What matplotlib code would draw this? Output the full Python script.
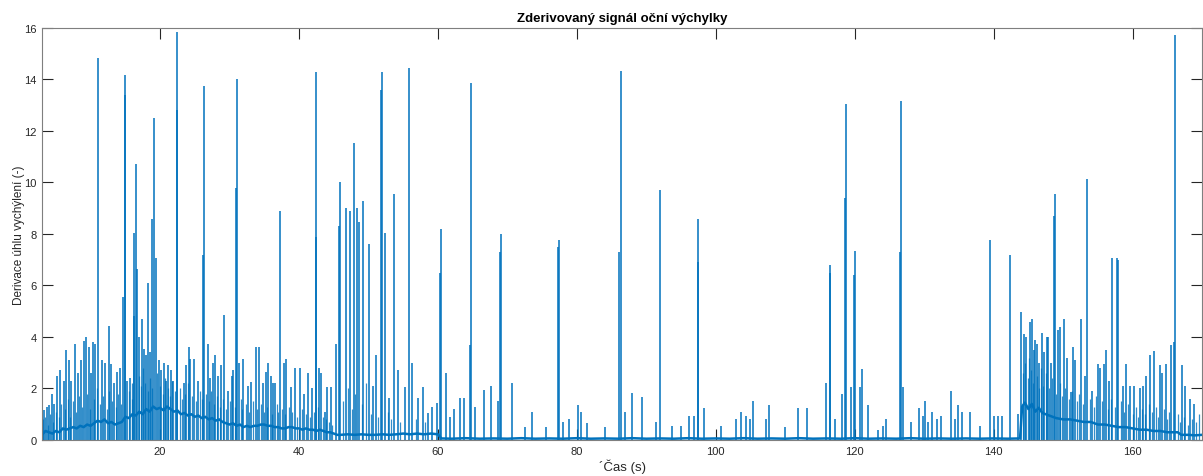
import matplotlib
matplotlib.use("Agg")
import matplotlib.pyplot as plt

# Slow baseline of the derivative signal: (time s, value)
baseline = [
    (2.6, 0.3), (3, 0.2), (3.5, 0.35), (4, 0.3), (4.5, 0.25), (5, 0.35), (5.5, 0.3),
    (6, 0.45), (6.5, 0.4), (7, 0.45), (7.5, 0.5), (8, 0.45), (8.5, 0.55), (9, 0.5),
    (9.5, 0.6), (10, 0.55), (10.5, 0.65), (11, 0.75), (11.5, 0.7), (12, 0.8), (12.5, 0.65),
    (13, 0.7), (13.5, 0.6), (14, 0.65), (14.5, 0.7), (15, 0.9), (15.5, 0.85), (16, 1.0),
    (16.5, 0.95), (17, 1.1), (17.5, 1.0), (18, 1.2), (18.5, 1.1), (19, 1.3), (19.5, 1.2),
    (20, 1.25), (20.5, 1.15), (21, 1.3), (21.5, 1.2), (22, 1.1), (22.5, 1.15), (23, 1.0),
    (23.5, 1.05), (24, 0.95), (24.5, 1.0), (25, 0.9), (25.5, 0.95), (26, 0.85), (26.5, 0.9),
    (27, 0.8), (27.5, 0.85), (28, 0.75), (28.5, 0.8), (29, 0.7), (29.5, 0.65), (30, 0.6),
    (30.5, 0.65), (31, 0.55), (31.5, 0.6), (32, 0.5), (32.5, 0.55), (33, 0.5), (33.5, 0.55),
    (34, 0.55), (34.5, 0.6), (35, 0.6), (35.5, 0.55), (36, 0.55), (36.5, 0.5), (37, 0.5),
    (37.5, 0.45), (38, 0.45), (38.5, 0.5), (39, 0.5), (39.5, 0.45), (40, 0.45), (40.5, 0.4),
    (41, 0.45), (41.5, 0.4), (42, 0.4), (42.5, 0.35), (43, 0.4), (43.5, 0.35), (44, 0.3),
    (44.5, 0.3), (45, 0.25), (45.5, 0.2), (46, 0.2), (47, 0.22), (48, 0.2), (49, 0.22),
    (50, 0.2), (51, 0.2), (52, 0.22), (53, 0.2), (54, 0.22), (55, 0.25), (56, 0.22),
    (57, 0.25), (58, 0.22), (59, 0.25), (60, 0.22), (60.5, 0.06), (62, 0.05), (64, 0.07),
    (66, 0.05), (68, 0.06), (70, 0.05), (72, 0.07), (74, 0.05), (76, 0.06), (78, 0.05),
    (80, 0.07), (82, 0.05), (84, 0.06), (86, 0.05), (88, 0.07), (90, 0.05), (92, 0.06),
    (94, 0.05), (96, 0.07), (98, 0.05), (100, 0.06), (102, 0.05), (104, 0.07), (106, 0.05),
    (108, 0.06), (110, 0.05), (112, 0.07), (114, 0.05), (116, 0.06), (118, 0.05),
    (120, 0.07), (122, 0.05), (124, 0.06), (126, 0.05), (128, 0.07), (130, 0.05),
    (132, 0.06), (134, 0.05), (136, 0.06), (138, 0.05), (140, 0.06), (142, 0.05),
    (143.8, 0.06), (144.1, 1.3), (144.5, 1.45), (145, 1.2), (145.5, 1.4), (146, 1.1),
    (146.5, 1.25), (147, 1.05), (147.5, 1.0), (148, 0.95), (149, 0.85), (150, 0.8),
    (151, 0.8), (152, 0.75), (153, 0.7), (154, 0.7), (155, 0.6), (156, 0.6), (157, 0.55),
    (158, 0.5), (159, 0.5), (160, 0.45), (161, 0.4), (162, 0.4), (163, 0.35), (164, 0.35),
    (165, 0.3), (166, 0.3), (166.5, 0.3), (167, 0.2), (168, 0.2), (169, 0.18), (170, 0.2),
]

# Saccade peaks of the derivative: (time s, peak value)
peaks = [
    (3.3, 1.15), (3.7, 1.3), (4.0, 1.35), (4.4, 1.8), (4.8, 1.4), (5.2, 2.5), (5.6, 2.7),
    (6.1, 2.3), (6.5, 3.48), (6.9, 3.1), (7.2, 2.3), (7.7, 3.74), (8.2, 2.6), (8.6, 3.1),
    (9.1, 3.86), (9.3, 4.0), (9.7, 3.6), (10.1, 2.6), (10.3, 3.8), (10.7, 3.73),
    (11.1, 14.85), (11.6, 3.1), (12.1, 3.0), (12.6, 4.43), (12.9, 2.95), (13.4, 2.2),
    (13.8, 2.65), (14.2, 2.78), (14.6, 5.55), (14.9, 13.4), (15.0, 14.16), (15.3, 2.3),
    (15.7, 2.4), (16.2, 4.8), (16.3, 8.05), (16.5, 10.7), (16.7, 6.65), (17.0, 4.0),
    (17.4, 4.7), (17.7, 3.55), (18.0, 3.3), (18.3, 6.1), (18.6, 3.4), (18.9, 8.6),
    (19.1, 12.5), (19.4, 7.07), (19.8, 3.1), (20.2, 2.7), (20.5, 3.0), (20.9, 2.3),
    (21.2, 2.9), (21.6, 2.7), (21.9, 2.3), (22.4, 12.8), (22.5, 15.84), (23.5, 2.2),
    (23.8, 2.9), (24.1, 3.6), (24.3, 3.16), (24.9, 3.16), (25.4, 2.3), (26.2, 7.2),
    (26.3, 13.74), (26.9, 3.74), (27.2, 2.4), (27.6, 3.0), (27.9, 3.3), (28.4, 2.47),
    (28.8, 2.9), (29.2, 4.85), (29.8, 1.9), (30.3, 2.47), (30.5, 2.7), (31.0, 9.8),
    (31.1, 14.03), (31.4, 3.0), (32.0, 3.16), (32.6, 2.1), (33.1, 2.25), (33.8, 3.6),
    (34.3, 3.6), (34.8, 2.2), (35.2, 2.64), (35.6, 3.0), (35.9, 2.5), (36.3, 2.2),
    (36.6, 2.2), (37.3, 8.9), (37.8, 3.0), (38.2, 3.16), (38.8, 2.07), (39.4, 2.78),
    (40.1, 2.78), (40.7, 1.8), (41.3, 2.6), (41.8, 2.0), (42.4, 7.9), (42.5, 14.3),
    (42.9, 2.78), (43.2, 2.6), (43.7, 1.1), (44.1, 2.07), (44.6, 2.07), (45.3, 3.74),
    (45.8, 8.3), (45.95, 10.0), (46.7, 9.0), (47.3, 8.88), (47.9, 11.53), (48.4, 9.0),
    (48.7, 8.47), (49.2, 9.3), (50.1, 7.63), (50.6, 2.1), (51.1, 3.3), (51.8, 13.6),
    (51.9, 14.3), (52.4, 8.04), (53.0, 1.65), (53.7, 9.57), (54.2, 2.7), (55.3, 2.06),
    (55.9, 14.45), (56.3, 3.0), (57.1, 1.65), (57.9, 2.06), (58.5, 1.05), (59.2, 1.3),
    (59.8, 1.45), (60.3, 6.5), (60.4, 8.18), (61.1, 2.6), (61.7, 0.9), (62.3, 1.2),
    (63.2, 1.65), (63.8, 1.65), (64.6, 3.7), (64.7, 13.86), (65.3, 1.3), (66.7, 1.95),
    (67.7, 2.1), (68.7, 1.53), (69.0, 7.3), (69.1, 8.0), (70.6, 2.23), (72.5, 0.5),
    (73.6, 1.1), (75.5, 0.5), (77.3, 7.5), (77.4, 7.75), (78.0, 0.7), (78.9, 0.8),
    (80.1, 1.35), (80.6, 1.1), (81.5, 0.65), (84.0, 0.5), (86.1, 7.3), (86.3, 14.32),
    (87.0, 1.1), (87.9, 1.82), (89.4, 1.66), (91.4, 0.69), (92.0, 9.72), (93.7, 0.56),
    (95.0, 0.56), (96.2, 0.95), (96.9, 0.95), (97.4, 6.9), (97.5, 8.6), (98.3, 1.23),
    (100.7, 0.56), (102.9, 0.82), (103.6, 1.1), (104.4, 0.95), (104.9, 0.82), (105.4, 1.5),
    (107.2, 0.82), (107.6, 1.36), (110.0, 0.5), (111.8, 1.23), (113.1, 1.23), (115.9, 2.2),
    (116.4, 6.5), (116.5, 6.8), (117.2, 0.82), (118.1, 1.79), (118.6, 9.4), (118.7, 13.05),
    (119.4, 2.07), (119.9, 6.4), (120.0, 7.35), (120.7, 2.07), (121.1, 2.76), (121.9, 1.36),
    (123.3, 0.4), (124.0, 0.56), (124.5, 0.82), (126.5, 7.3), (126.6, 13.18), (127.0, 2.07),
    (128.1, 0.69), (129.3, 1.23), (129.8, 0.95), (130.1, 1.5), (130.6, 0.69), (131.1, 1.1),
    (131.9, 0.82), (132.4, 0.95), (133.8, 1.92), (134.4, 0.82), (134.9, 1.36), (135.5, 1.1),
    (136.6, 1.1), (138.0, 0.56), (139.5, 7.77), (140.1, 0.95), (140.6, 0.95), (141.2, 0.95),
    (142.4, 7.2), (143.5, 1.0), (144.0, 4.97), (144.3, 4.13), (144.7, 4.0), (145.2, 4.58),
    (145.5, 4.71), (145.8, 3.48), (146.0, 3.87), (146.3, 3.74), (146.6, 3.0), (146.9, 4.16),
    (147.3, 3.4), (147.7, 4.0), (147.8, 4.0), (148.2, 3.0), (148.7, 8.7), (148.8, 9.57),
    (149.3, 4.26), (149.6, 4.4), (150.1, 4.7), (150.6, 3.2), (151.1, 1.86), (151.4, 3.6),
    (151.7, 3.1), (152.6, 4.7), (153.1, 2.5), (153.5, 10.15), (154.2, 1.9), (155.0, 2.97),
    (155.3, 2.8), (155.9, 2.97), (156.2, 3.48), (156.6, 2.3), (157.0, 7.08), (157.7, 7.07),
    (157.9, 7.0), (158.6, 2.1), (159.0, 2.95), (159.7, 2.1), (160.2, 2.1), (161.0, 2.0),
    (161.5, 2.1), (162.0, 2.5), (162.5, 3.3), (163.1, 3.45), (163.9, 2.9), (164.2, 2.6),
    (164.8, 2.97), (165.6, 3.67), (166.0, 3.8), (166.1, 15.72), (167.1, 2.9), (167.6, 2.1),
    (168.2, 1.6), (168.9, 1.4),
]

# Small fixation jitter peaks in the busy stretches: (time s, peak value)
minor_peaks = [
    (3.1, 0.8), (3.5, 0.9), (3.9, 0.6), (4.2, 1.0), (4.6, 0.7), (5.0, 1.1), (5.4, 0.9),
    (5.8, 1.4), (6.3, 1.2), (6.7, 1.6), (7.0, 0.9), (7.4, 1.5), (7.9, 1.1), (8.4, 1.7),
    (8.8, 1.3), (9.5, 1.8), (9.9, 1.2), (10.5, 1.6), (10.9, 2.0), (11.3, 1.4), (11.8, 1.7),
    (12.3, 1.2), (12.7, 1.9), (13.1, 1.5), (13.6, 1.3), (14.0, 1.8), (14.4, 1.4),
    (15.5, 1.9), (15.9, 1.6), (16.0, 2.2), (16.9, 2.5), (17.2, 2.1), (17.5, 2.8),
    (17.9, 2.2), (18.2, 1.9), (18.5, 2.4), (18.8, 2.0), (19.6, 2.6), (20.0, 2.1),
    (20.4, 1.8), (20.7, 2.4), (21.1, 2.0), (21.4, 1.7), (21.7, 2.3), (22.1, 1.9),
    (22.8, 2.0), (23.2, 1.6), (23.6, 1.8), (24.0, 2.2), (24.6, 1.7), (25.1, 1.5),
    (25.7, 1.9), (26.0, 1.6), (26.6, 1.8), (27.0, 1.5), (27.4, 1.9), (27.8, 1.4),
    (28.2, 1.7), (28.6, 1.3), (29.0, 1.6), (29.5, 1.2), (30.0, 1.5), (30.8, 1.3),
    (31.6, 1.6), (31.8, 1.2), (32.3, 1.4), (32.8, 1.1), (33.4, 1.5), (34.0, 1.2),
    (34.6, 1.4), (35.0, 1.1), (35.4, 1.3), (36.1, 1.0), (36.8, 1.4), (37.0, 1.1),
    (37.6, 1.2), (38.0, 1.0), (38.5, 1.3), (39.0, 1.1), (39.7, 0.9), (40.4, 1.2),
    (41.0, 1.0), (41.6, 0.9), (42.1, 1.1), (42.7, 1.3), (43.4, 0.9), (43.9, 0.8),
    (44.3, 0.7), (44.8, 0.6), (46.3, 1.5), (47.0, 2.0), (47.6, 1.2), (48.1, 1.8),
    (49.0, 1.4), (49.6, 2.2), (50.4, 1.0), (51.4, 0.9), (52.8, 1.1), (53.3, 0.8),
    (54.6, 0.7), (56.8, 0.8), (58.2, 0.7), (144.2, 2.6), (144.5, 3.0), (144.9, 2.4),
    (145.1, 3.2), (145.4, 2.7), (145.7, 2.2), (146.2, 2.5), (146.5, 2.0), (146.8, 2.8),
    (147.1, 2.1), (147.5, 2.6), (148.0, 2.0), (148.4, 2.4), (149.0, 1.8), (149.5, 2.2),
    (149.9, 1.7), (150.3, 2.0), (150.9, 1.6), (151.3, 1.9), (152.0, 1.5), (152.3, 1.8),
    (152.9, 1.4), (153.8, 1.6), (154.5, 1.3), (154.8, 1.7), (155.6, 1.5), (156.4, 1.2),
    (156.9, 1.6), (157.4, 1.3), (158.3, 1.5), (158.8, 1.1), (159.3, 1.4), (160.0, 1.0),
    (160.5, 1.3), (160.8, 0.9), (161.3, 1.2), (161.8, 1.0), (162.3, 1.4), (162.8, 1.1),
    (163.4, 1.3), (163.7, 0.9), (164.5, 1.2), (165.0, 0.8), (165.3, 1.1), (166.5, 1.0),
    (166.8, 0.7), (167.4, 0.9), (168.0, 0.6), (168.5, 0.8), (169.2, 0.7), (169.6, 1.0),
]

base_t = [t for t, _ in baseline]
base_v = [v for _, v in baseline]
spike_t = [t for t, _ in peaks]
spike_v = [v for _, v in peaks]
minor_t = [t for t, _ in minor_peaks]
minor_v = [v for _, v in minor_peaks]

BLUE = "#0072BD"
AX_COLOR = "#262626"

plt.rcParams["font.family"] = ["Liberation Sans", "DejaVu Sans"]

fig = plt.figure(figsize=(12.03, 4.77), dpi=100)
ax = fig.add_axes([0.0349, 0.0755, 0.9643, 0.8637])

ax.vlines(minor_t, 0, minor_v, color=BLUE, linewidth=0.9, alpha=0.8)
ax.vlines(spike_t, 0, spike_v, color=BLUE, linewidth=1.1)
ax.plot(base_t, base_v, color=BLUE, linewidth=1.8)

ax.set_xlim(3, 170)
ax.set_ylim(0, 16)
ax.set_xticks(range(20, 161, 20))
ax.set_yticks(range(0, 17, 2))

ax.tick_params(direction="in", length=8, width=0.8, top=True, right=True,
               labelsize=8, colors=AX_COLOR, pad=4)
for s in ax.spines.values():
    s.set_color("#7f7f7f")
    s.set_linewidth(0.8)

ax.set_title("Zderivovaný signál oční výchylky", fontsize=9.5, fontweight="bold",
             color="black", pad=5)
ax.set_xlabel("´Čas (s)", fontsize=9.5, color=AX_COLOR, labelpad=2)
ax.set_ylabel("Derivace úhlu vychýlení (-)", fontsize=8.5, color=AX_COLOR, labelpad=-1)

fig.savefig("out.png", dpi=100)
